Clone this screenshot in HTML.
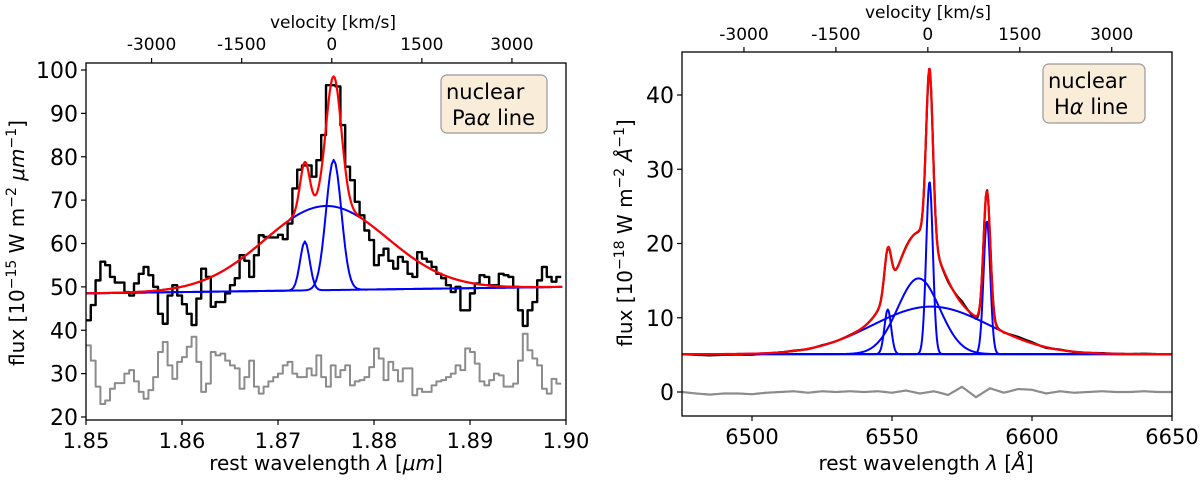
<!DOCTYPE html>
<html><head><meta charset="utf-8"><style>
html,body{margin:0;padding:0;background:#fff}
svg{display:block;font-family:"DejaVu Sans","Liberation Sans",sans-serif}
</style></head><body>
<svg id="chart" width="1200" height="482" viewBox="0 0 1200 482" xmlns="http://www.w3.org/2000/svg">
<g id="pL"></g>
<g id="pR"></g>
</svg>
<script>
// ---- Left panel data (Pa alpha) ----
const paStart = 1.85;
const paBin = 0.0005;
const paFlux = [42.3,45.8,51.5,55.8,55,52.3,51,51,48.8,48,50.8,53,54.6,52.7,50,43.8,41.5,48,50.4,48,46,43.8,41.2,47.3,54.2,52.3,45.4,46.5,46.5,48.5,50.4,52,57.3,56,52.3,57.3,61.9,61.5,61.4,61.4,62,61,64.6,72.7,77,78,78,75.4,79.2,85,96.5,96.5,96.2,87.3,77.7,74.6,69.6,66.5,63,60.8,55,57.3,58.8,56,54.2,56.9,55.8,53,52.3,58,56.5,55.8,54.6,53,52,50.4,48.8,50,44.6,44.6,48.5,50.8,52.7,52.3,50.4,50.4,53,52.7,52.3,50,44.6,41,44.6,46.5,51.5,54.6,52.3,51.2,52.3];
const paResid = [36.5,33,27,23,23.8,26.5,27.8,27.8,30,30.8,28.2,25.8,24.2,26.2,29.2,35,37.3,31.9,28.8,32.7,33.8,36.2,38.5,32.7,25.8,27.7,35,34.2,34.6,33,31.9,31.2,26.5,29.2,33,27,25.4,27,28.2,29.2,30,31.9,32.7,30,29.2,29.2,31.2,29.6,34.2,29.2,27,31.9,29.2,30.8,31.9,27.3,28.2,28.5,29.2,31.5,35.8,33.5,28.5,32.7,30.8,28.2,31.2,31.2,25,26.5,25.8,25.8,27.3,28.2,28.5,29.2,30,31.9,30.8,35.8,35,32.3,28.2,27.3,28.5,30,29.6,27,27,27.7,33,39.2,35.4,33.5,31.9,26.5,25.4,28.8,27.7];
const paCont = [48.5, 50.0];
const paCenters = [1.8750, 1.8758, 1.8728];
const paAmps = [19.4, 30, 11.3];
const paSigmas = [0.0064, 0.0008, 0.0005];
const paYTicks = [20,30,40,50,60,70,80,90,100];
const paXTicks = [1.85,1.86,1.87,1.88,1.89,1.90];
const paXTickLabels = ["1.85","1.86","1.87","1.88","1.89","1.90"];
const velTicks = [-3000,-1500,0,1500,3000];

// ---- Right panel data (H alpha) ----
const haCont = 5.1;
const haCenters = [6563.9, 6559.5, 6563.4, 6548.5, 6583.9];
const haAmps = [6.4, 10.2, 23.2, 6.0, 17.9];
const haSigmas = [21, 7.5, 1.2, 1.2, 1.2];
const haResidStart = 6475, haResidStep = 5;
const haResid = [0,-0.2,-0.35,-0.2,-0.2,-0.3,-0.1,0,0.1,-0.1,0.1,0,0.1,0,0.1,-0.1,0.2,-0.2,0.1,-0.4,0.7,-0.7,0.5,-0.1,0.4,0.3,-0.2,0.1,-0.1,0,0.1,0,0,0.1,0,0,0];
const haYTicks = [0,10,20,30,40];
const haXTicks = [6500,6550,6600,6650];

const NS = "http://www.w3.org/2000/svg";
function mk(tag, attrs, parent){ const e=document.createElementNS(NS,tag); for(const k in attrs) e.setAttribute(k,attrs[k]); parent.appendChild(e); return e; }
function gauss(x,c,a,s){ return a*Math.exp(-(x-c)*(x-c)/(2*s*s)); }
const C = 299792.458;

function axes(g, o){
  const f = mk('rect',{x:o.x0,y:o.y0,width:o.x1-o.x0,height:o.y1-o.y0,fill:'none',stroke:'#000','stroke-width':1.3},g);
  
  
  o.yt.forEach(v=>{
    const y=o.sy(v);
    const t=mk('line',{x1:o.x0-5,x2:o.x0,y1:y,y2:y,stroke:'#000','stroke-width':1.2},g);
    
    
    const l=mk('text',{x:o.x0-8,y:y+8,'text-anchor':'end','font-size':o.yfs},g); l.textContent=v;
    
    
  });
  o.xt.forEach((v,i)=>{
    const x=o.sx(v);
    const t=mk('line',{x1:x,x2:x,y1:o.y1,y2:o.y1+5,stroke:'#000','stroke-width':1.2},g);
    
    
    const l=mk('text',{x:x,y:o.xly,'text-anchor':'middle','font-size':21},g); l.textContent=o.xtl[i];
    
    
  });
  velTicks.forEach(v=>{
    const x=o.sx(o.lam0*(1+v/C));
    const t=mk('line',{x1:x,x2:x,y1:o.y0-5,y2:o.y0,stroke:'#000','stroke-width':1.2},g);
    
    
    const l=mk('text',{x:x,y:o.vly,'text-anchor':'middle','font-size':17},g); l.textContent=v;
    
    
  });
}
function poly(g, pts, color, w, name){
  const p=mk('polyline',{points:pts.map(p=>p[0].toFixed(2)+','+p[1].toFixed(2)).join(' '),fill:'none',stroke:color,'stroke-width':w,'stroke-linejoin':'round'},g);
  
  
  return p;
}
function legend(g,x,y,w,h,l2a){
  const b=mk('rect',{x:x,y:y,width:w,height:h,rx:6,fill:'#f9ecd8',stroke:'#999','stroke-width':1.2},g);
  
  
  const t1=mk('text',{x:x+5,y:y+24,'font-size':21},g); t1.textContent='nuclear';
  
  
  const t2=mk('text',{x:x+11,y:y+50,'font-size':21},g);
  
  
  const s1=mk('tspan',{},t2); s1.textContent=l2a;
  const s2=mk('tspan',{'font-style':'italic'},t2); s2.textContent='α';
  const s3=mk('tspan',{},t2); s3.textContent=' line';
}
function ylabel(g,x,y,exp,unit){
  const t=mk('text',{x:0,y:0,'text-anchor':'middle','font-size':20,transform:`translate(${x},${y}) rotate(-90)`},g);
  
  
  const parts=[['flux [10',0],[exp,1],[' W m',0],['−2',1],[' ',0],[unit,2],['−1',1],[']',0]];
  let prevSup=false;
  parts.forEach(p=>{
    const s=mk('tspan',{},t); s.textContent=p[0];
    if(p[1]==1){ s.setAttribute('font-size','14'); s.setAttribute('dy','-8'); }
    else if(prevSup){ s.setAttribute('dy','8'); }
    if(p[1]==2){ s.setAttribute('font-style','italic'); }
    prevSup = p[1]==1;
  });
}
function xlabel(g,x,y,unit){
  const t=mk('text',{x:x,y:y,'text-anchor':'middle','font-size':20},g);
  
  
  const a=mk('tspan',{},t); a.textContent='rest wavelength ';
  const b=mk('tspan',{'font-style':'italic'},t); b.textContent='λ';
  const c=mk('tspan',{},t); c.textContent=' [';
  const d=mk('tspan',{'font-style':'italic'},t); d.textContent=unit;
  const e=mk('tspan',{},t); e.textContent=']';
}
function vlabel(g,x,y){
  const t=mk('text',{x:x,y:y,'text-anchor':'middle','font-size':17},g); t.textContent='velocity [km/s]';
  
  
}

// ---------- Left panel ----------
(function(){
  const g=document.getElementById('pL');
  const o={x0:86,x1:566,y0:63,y1:420,lam0:1.8756};
  const yA=70, yB=417;
  o.sy=v=>yB+(v-20)*(yA-yB)/80;
  o.sx=l=>o.x0+(l-1.85)/(0.05)*(o.x1-o.x0);
  o.yt=paYTicks; o.xt=paXTicks; o.xtl=paXTickLabels; o.yfs=22; o.xly=448; o.vly=50;
  const clip=mk('clipPath',{id:'cL'},g); mk('rect',{x:o.x0,y:o.y0,width:o.x1-o.x0,height:o.y1-o.y0},clip);
  const d=mk('g',{'clip-path':'url(#cL)'},g);
  function steps(arr){ const pts=[]; arr.forEach((v,i)=>{ const xa=o.sx(paStart+i*paBin), xb=o.sx(paStart+(i+1)*paBin); pts.push([xa,o.sy(v)],[xb,o.sy(v)]); }); return pts; }
  poly(d,steps(paResid),'#8c8c8c',2,'residual-histogram');
  poly(d,steps(paFlux),'#000',2.4,'observed-flux-histogram');
  const cont=l=>paCont[0]+(paCont[1]-paCont[0])*(l-1.85)/0.05;
  paCenters.forEach((c,k)=>{
    const pts=[]; for(let l=1.85;l<=1.8996;l+=0.0002) pts.push([o.sx(l),o.sy(cont(l)+gauss(l,c,paAmps[k],paSigmas[k]))]);
    poly(d,pts,'#0000ff',2,'gaussian-component-'+(k+1));
  });
  const pts=[]; for(let l=1.85;l<=1.8996;l+=0.0001){ let v=cont(l); paCenters.forEach((c,k)=>v+=gauss(l,c,paAmps[k],paSigmas[k])); pts.push([o.sx(l),o.sy(v)]); }
  poly(d,pts,'#ff0000',2.2,'total-fit');
  axes(g,o);
  legend(g,441,75,106,58,'Pa');
  ylabel(g,24,243,'−15','μm');
  xlabel(g,326,470,'μm');
  vlabel(g,333,28);
})();

// ---------- Right panel ----------
(function(){
  const g=document.getElementById('pR');
  const o={x0:682,x1:1172,y0:52,y1:416,lam0:6562.8};
  o.sy=v=>392-v*(392-95)/40;
  o.sx=l=>o.x0+(l-6475)/175*(o.x1-o.x0);
  o.yt=haYTicks; o.xt=haXTicks; o.xtl=haXTicks.map(String); o.yfs=22; o.xly=444; o.vly=40;
  const clip=mk('clipPath',{id:'cR'},g); mk('rect',{x:o.x0,y:o.y0,width:o.x1-o.x0,height:o.y1-o.y0},clip);
  const d=mk('g',{'clip-path':'url(#cR)'},g);
  const resid=l=>{ const f=(l-haResidStart)/haResidStep; const i=Math.max(0,Math.min(haResid.length-2,Math.floor(f))); const t=f-i; return haResid[i]*(1-t)+haResid[i+1]*t; };
  const model=l=>{ let v=haCont; haCenters.forEach((c,k)=>v+=gauss(l,c,haAmps[k],haSigmas[k])); return v; };
  let pts=[]; for(let l=6475;l<=6650;l+=0.5) pts.push([o.sx(l),o.sy(resid(l))]);
  poly(d,pts,'#8c8c8c',2.2,'residual-line');
  pts=[]; for(let l=6475;l<=6650;l+=0.5) pts.push([o.sx(l),o.sy(model(l)+resid(l)*0.5)]);
  poly(d,pts,'#000',2.2,'observed-flux-line');
  haCenters.forEach((c,k)=>{
    const p=[]; for(let l=6475;l<=6650;l+=0.25) p.push([o.sx(l),o.sy(haCont+gauss(l,c,haAmps[k],haSigmas[k]))]);
    poly(d,p,'#0000ff',2,'gaussian-component-'+(k+1));
  });
  pts=[]; for(let l=6475;l<=6650;l+=0.25) pts.push([o.sx(l),o.sy(model(l))]);
  poly(d,pts,'#ff0000',2.2,'total-fit');
  axes(g,o);
  legend(g,1043,64,102,59,'H');
  ylabel(g,632,233,'−18','Å');
  xlabel(g,926,470,'Å');
  vlabel(g,928,18);
})();
</script>
</body></html>
